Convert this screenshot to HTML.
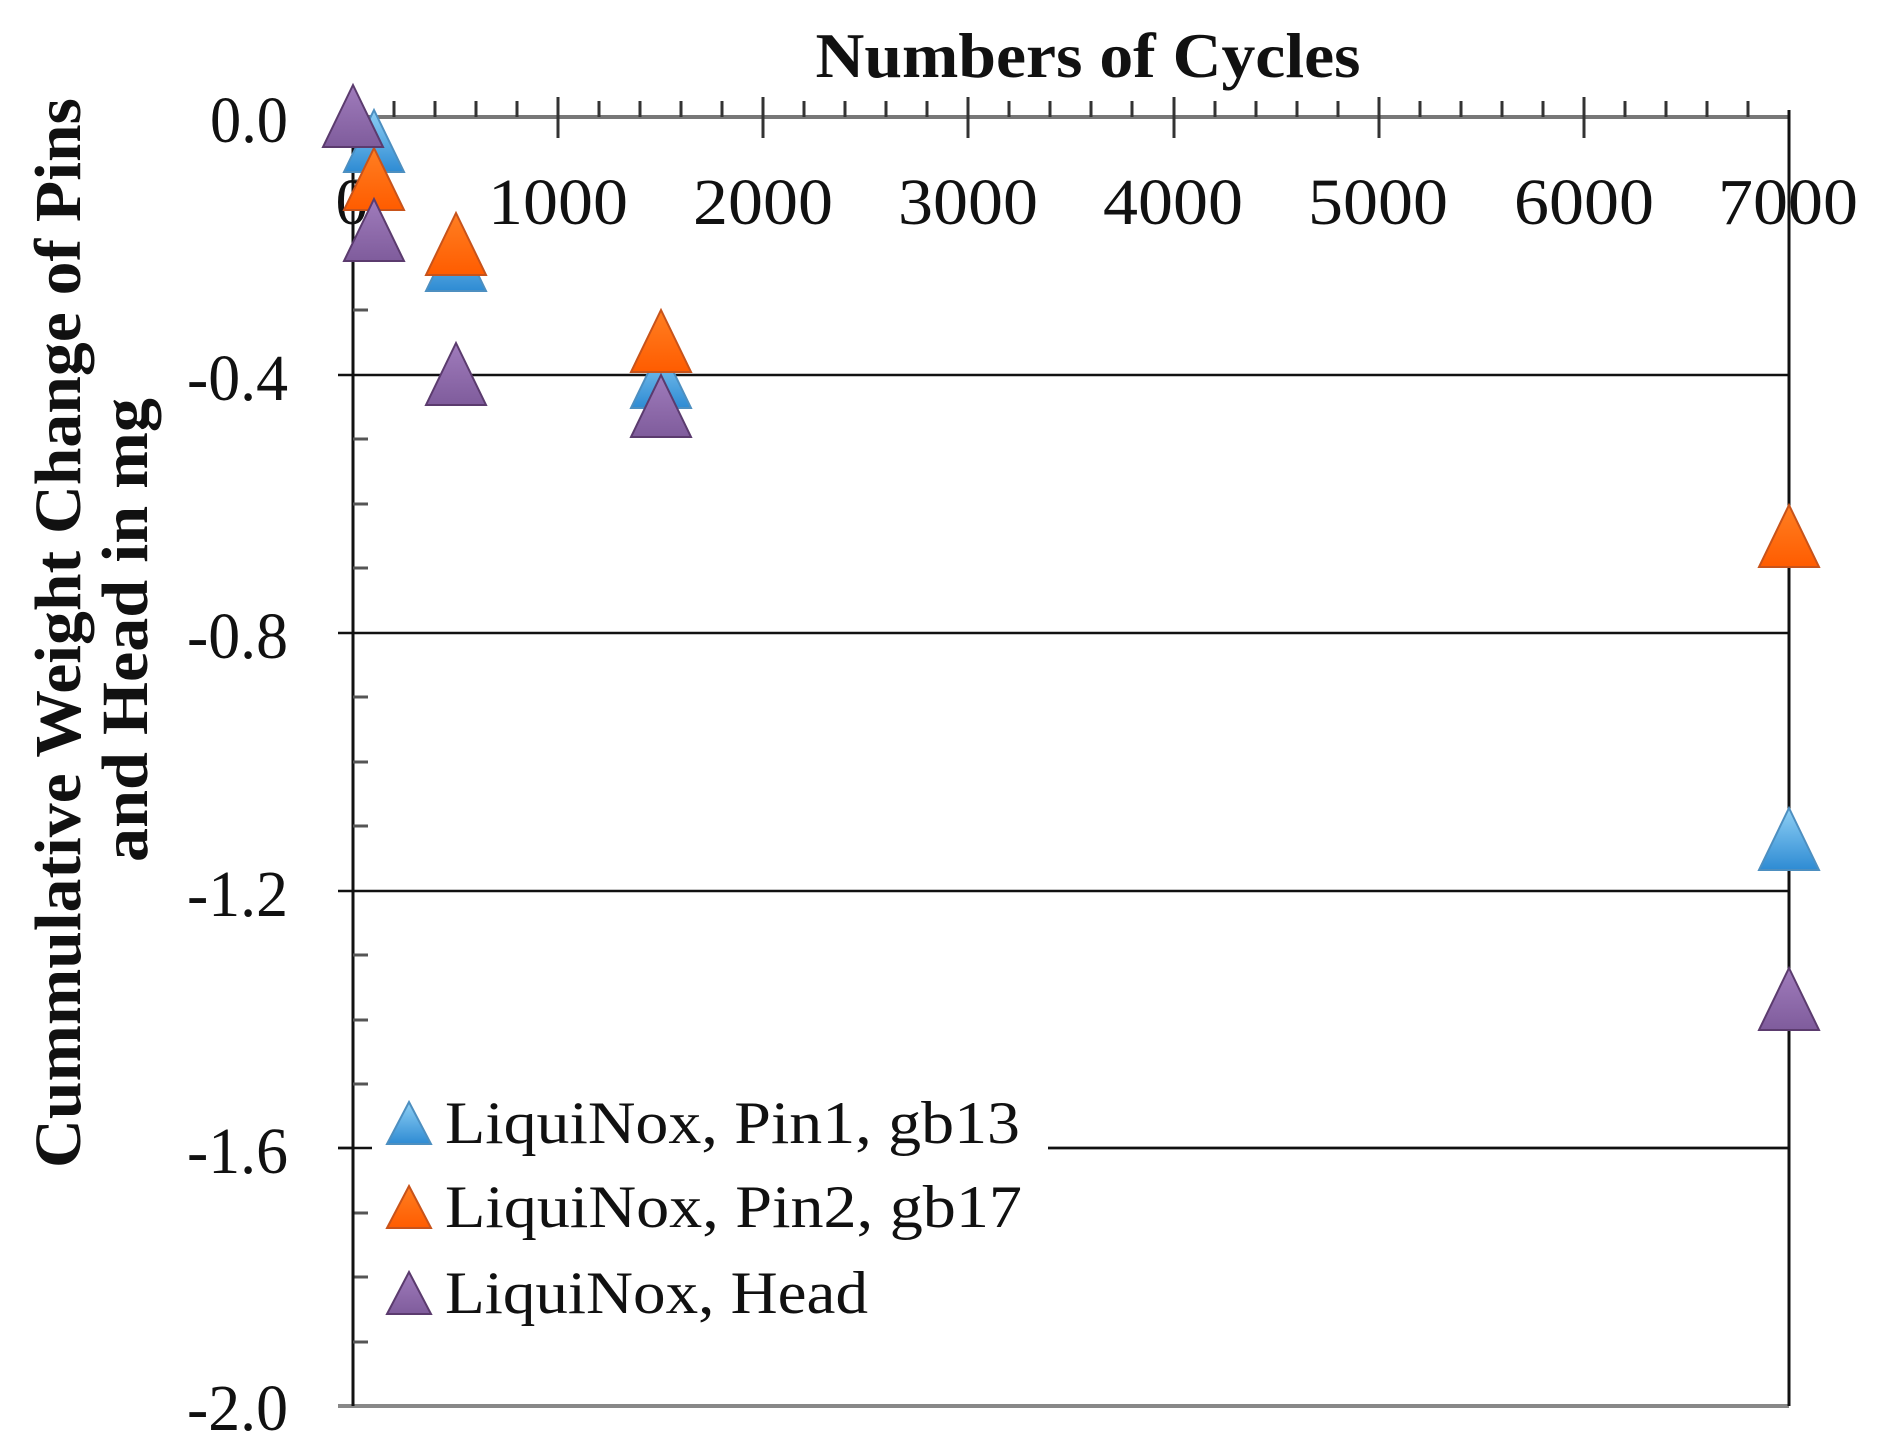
<!DOCTYPE html>
<html><head><meta charset="utf-8"><style>html,body{margin:0;padding:0;background:#fff}svg{display:block}</style></head>
<body>
<svg width="1878" height="1456" viewBox="0 0 1878 1456" xmlns="http://www.w3.org/2000/svg">
<defs>
<linearGradient id="gb" x1="0" y1="0" x2="0" y2="1"><stop offset="0" stop-color="#8fd0f5"/><stop offset="1" stop-color="#2e8bd3"/></linearGradient>
<linearGradient id="go" x1="0" y1="0" x2="0" y2="1"><stop offset="0" stop-color="#ff7f22"/><stop offset="1" stop-color="#ff5c00"/></linearGradient>
<linearGradient id="gp" x1="0" y1="0" x2="0" y2="1"><stop offset="0" stop-color="#a07cbc"/><stop offset="1" stop-color="#7f5c9c"/></linearGradient>
</defs>
<g stroke="#111" stroke-width="2.5" fill="none">
<line x1="338" y1="375" x2="1789" y2="375"/>
<line x1="338" y1="633" x2="1789" y2="633"/>
<line x1="338" y1="891" x2="1789" y2="891"/>
<line x1="338" y1="1148" x2="1789" y2="1148"/>
<line x1="338" y1="1406" x2="1789" y2="1406" stroke="#888" stroke-width="4"/>
<line x1="338" y1="117" x2="1789" y2="117" stroke="#777" stroke-width="4"/>
<line x1="353" y1="117" x2="353" y2="1406" stroke-width="3"/>
<line x1="1789" y1="110" x2="1789" y2="1406" stroke-width="3"/>
</g>
<g stroke="#555" stroke-width="3">
<line x1="353" y1="181" x2="368" y2="181"/><line x1="353" y1="246" x2="368" y2="246"/><line x1="353" y1="310" x2="368" y2="310"/>
<line x1="353" y1="439" x2="368" y2="439"/><line x1="353" y1="504" x2="368" y2="504"/><line x1="353" y1="568" x2="368" y2="568"/>
<line x1="353" y1="697" x2="368" y2="697"/><line x1="353" y1="762" x2="368" y2="762"/><line x1="353" y1="826" x2="368" y2="826"/>
<line x1="353" y1="955" x2="368" y2="955"/><line x1="353" y1="1020" x2="368" y2="1020"/><line x1="353" y1="1084" x2="368" y2="1084"/>
<line x1="353" y1="1213" x2="368" y2="1213"/><line x1="353" y1="1277" x2="368" y2="1277"/><line x1="353" y1="1342" x2="368" y2="1342"/>
</g>
<g stroke="#333" stroke-width="3">
<path d="M394 101V117M435 101V117M476 101V117M517 101V117M599 101V117M640 101V117M681 101V117M722 101V117M804 101V117M845 101V117M886 101V117M927 101V117M1009 101V117M1050 101V117M1091 101V117M1132 101V117M1215 101V117M1256 101V117M1297 101V117M1338 101V117M1420 101V117M1461 101V117M1502 101V117M1543 101V117M1625 101V117M1666 101V117M1707 101V117M1748 101V117"/>
<path d="M558 97V138M763 97V138M968 97V138M1174 97V138M1379 97V138M1584 97V138"/>
</g>
<g font-family="Liberation Serif, serif" font-size="66" fill="#111">
<text x="352" y="224" text-anchor="middle">0</text>
<text x="558" y="224" text-anchor="middle" textLength="140" lengthAdjust="spacingAndGlyphs">1000</text>
<text x="763" y="224" text-anchor="middle" textLength="140" lengthAdjust="spacingAndGlyphs">2000</text>
<text x="968" y="224" text-anchor="middle" textLength="140" lengthAdjust="spacingAndGlyphs">3000</text>
<text x="1173" y="224" text-anchor="middle" textLength="140" lengthAdjust="spacingAndGlyphs">4000</text>
<text x="1378" y="224" text-anchor="middle" textLength="140" lengthAdjust="spacingAndGlyphs">5000</text>
<text x="1584" y="224" text-anchor="middle" textLength="140" lengthAdjust="spacingAndGlyphs">6000</text>
<text x="1788" y="224" text-anchor="middle" textLength="140" lengthAdjust="spacingAndGlyphs">7000</text>
<text x="288" y="142" text-anchor="end" textLength="78" lengthAdjust="spacingAndGlyphs">0.0</text>
<text x="288" y="400" text-anchor="end" textLength="101" lengthAdjust="spacingAndGlyphs">-0.4</text>
<text x="288" y="658" text-anchor="end" textLength="101" lengthAdjust="spacingAndGlyphs">-0.8</text>
<text x="288" y="916" text-anchor="end" textLength="101" lengthAdjust="spacingAndGlyphs">-1.2</text>
<text x="288" y="1173" text-anchor="end" textLength="101" lengthAdjust="spacingAndGlyphs">-1.6</text>
<text x="288" y="1430" text-anchor="end" textLength="101" lengthAdjust="spacingAndGlyphs">-2.0</text>
</g>
<text x="1088" y="77" text-anchor="middle" font-family="Liberation Serif, serif" font-weight="bold" font-size="64" textLength="545" lengthAdjust="spacingAndGlyphs" fill="#111">Numbers of Cycles</text>
<g font-family="Liberation Serif, serif" font-weight="bold" font-size="66" fill="#111">
<text transform="translate(80,633) rotate(-90)" text-anchor="middle" textLength="1070" lengthAdjust="spacingAndGlyphs">Cummulative Weight Change of Pins</text>
<text transform="translate(147,630) rotate(-90)" text-anchor="middle" textLength="464" lengthAdjust="spacingAndGlyphs">and Head in mg</text>
</g>
<g stroke-width="2">
<g fill="url(#gb)" stroke="#4d8fc0">
<polygon points="374,110 404,172 344,172"/>
<polygon points="456,229 486,291 426,291"/>
<polygon points="661,346 691,408 631,408"/>
<polygon points="1789,808 1819,870 1759,870"/>
</g>
<g fill="url(#go)" stroke="#c8531a">
<polygon points="374,148 404,210 344,210"/>
<polygon points="456,213 486,275 426,275"/>
<polygon points="661,310 691,372 631,372"/>
<polygon points="1789,505 1819,567 1759,567"/>
</g>
<g fill="url(#gp)" stroke="#5b3b6e">
<polygon points="353,85 383,147 323,147"/>
<polygon points="374,199 404,261 344,261"/>
<polygon points="456,343 486,405 426,405"/>
<polygon points="661,375 691,437 631,437"/>
<polygon points="1789,968 1819,1030 1759,1030"/>
</g>
</g>
<rect x="372" y="1090" width="676" height="250" fill="#fff"/>
<line x1="338" y1="1148" x2="353" y2="1148" stroke="#111" stroke-width="2.5"/>
<line x1="1048" y1="1148" x2="1789" y2="1148" stroke="#111" stroke-width="2.5"/>
<line x1="353" y1="1090" x2="353" y2="1340" stroke="#111" stroke-width="3"/>
<g stroke-width="2">
<polygon points="409,1102 431,1144 387,1144" fill="url(#gb)" stroke="#4d8fc0"/>
<polygon points="409,1186 431,1228 387,1228" fill="url(#go)" stroke="#c8531a"/>
<polygon points="409,1272 431,1314 387,1314" fill="url(#gp)" stroke="#5b3b6e"/>
</g>
<g font-family="Liberation Serif, serif" font-size="60" fill="#111">
<text x="445" y="1143" textLength="575" lengthAdjust="spacingAndGlyphs">LiquiNox, Pin1, gb13</text>
<text x="445" y="1227" textLength="577" lengthAdjust="spacingAndGlyphs">LiquiNox, Pin2, gb17</text>
<text x="445" y="1313" textLength="423" lengthAdjust="spacingAndGlyphs">LiquiNox, Head</text>
</g>
</svg>
</body></html>
